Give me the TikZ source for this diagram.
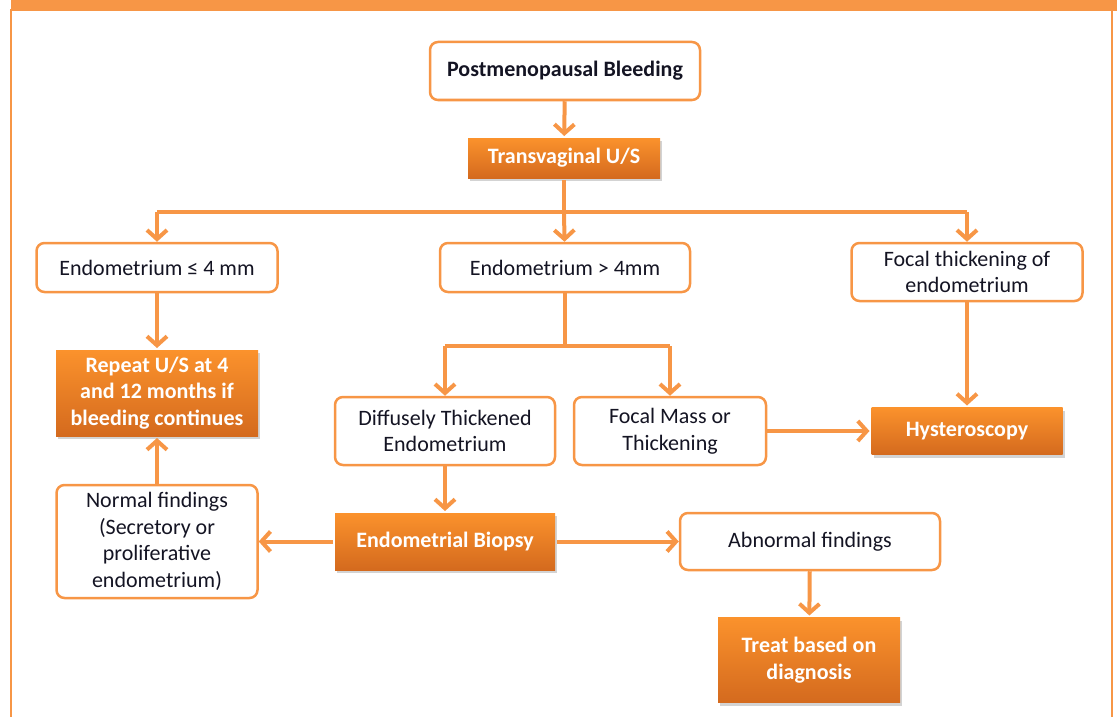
\documentclass[tikz,border=0pt]{standalone}
\usepackage{fontspec}
\setmainfont{Carlito}
\usepackage{tikz}
\usetikzlibrary{arrows.meta,positioning,calc,shadows}

\definecolor{linecol}{RGB}{247,150,70}
\definecolor{topcol}{RGB}{251,146,44}
\definecolor{botcol}{RGB}{212,106,30}
\definecolor{textcol}{RGB}{20,20,35}

\begin{document}
\begin{tikzpicture}[x=1pt,y=-1pt,
  line width=4pt,
  arr/.style={draw=linecol,-{Straight Barb[length=9pt,width=20pt,line width=4pt]}},
  plain node/.style={draw=linecol,line width=2.5pt,fill=white,rounded corners=8pt,
    align=center,inner sep=2pt,text=textcol,font=\fontsize{22}{26.5}\selectfont},
  fill node/.style={draw=none,top color=topcol,bottom color=botcol,align=center,
    inner sep=2pt,text=white,font=\fontsize{22}{26.5}\selectfont\bfseries,
    drop shadow={opacity=0.35,shadow xshift=2pt,shadow yshift=-3pt}}]

  \useasboundingbox (0,0) rectangle (1117,717);
  % frame
  \fill[linecol] (11,0) rectangle (1117,11);
  \draw[linecol,line width=2.5pt] (11,9) -- (11,717);
  \draw[linecol,line width=2.5pt] (1112,11) -- (1112,717);

  \node[plain node,minimum width=270pt,minimum height=58pt,font=\fontsize{22}{26.5}\selectfont\bfseries] (pmb) at (565,71) {Postmenopausal Bleeding};
  \node[fill node,minimum width=192pt,minimum height=40pt] (tvus) at (564,158) {Transvaginal U/S};
  \node[plain node,minimum width=241pt,minimum height=49pt] (le4) at (157,267.5) {Endometrium ≤ 4 mm};
  \node[plain node,minimum width=250pt,minimum height=49pt] (gt4) at (565,267.5) {Endometrium > 4mm};
  \node[plain node,minimum width=231pt,minimum height=58pt] (focal) at (967,272) {Focal thickening of\\endometrium};
  \node[fill node,minimum width=202pt,minimum height=86pt] (rep) at (157,393) {Repeat U/S at 4\\and 12 months if\\bleeding continues};
  \node[plain node,minimum width=220pt,minimum height=68pt] (diff) at (445,431) {Diffusely Thickened\\Endometrium};
  \node[plain node,minimum width=192pt,minimum height=68pt] (mass) at (670,431) {Focal Mass or\\Thickening};
  \node[fill node,minimum width=191pt,minimum height=47pt] (hyst) at (967,431) {Hysteroscopy};
  \node[fill node,minimum width=220pt,minimum height=57pt] (bio) at (445,541.5) {Endometrial Biopsy};
  \node[plain node,minimum width=201pt,minimum height=113pt] (norm) at (157,541.5) {Normal findings\\(Secretory or\\proliferative\\endometrium)};
  \node[plain node,minimum width=260pt,minimum height=57pt] (abn) at (810,541.5) {Abnormal findings};
  \node[fill node,minimum width=182pt,minimum height=85pt] (treat) at (809,660) {Treat based on\\diagnosis};

  \coordinate (split1) at ($(tvus.south)+(0,32)$);
  \coordinate (split2) at ($(gt4.south)+(0,53)$);

  \draw[linecol] (tvus) -- (split1);
  \draw[linecol] (le4.north |- split1) -- (focal.north |- split1);
  \draw[arr] (split1) -- (gt4);
  \draw[arr] (split1 -| le4) -- (le4);
  \draw[arr] (split1 -| focal) -- (focal);
  \draw[arr] (pmb) -- (tvus);
  \draw[arr] (le4) -- (rep);
  \draw[linecol] (gt4) -- (split2);
  \draw[linecol] (split2 -| diff) -- (split2 -| mass);
  \draw[arr] (split2 -| diff) -- (diff);
  \draw[arr] (split2 -| mass) -- (mass);
  \draw[arr] (mass) -- (hyst);
  \draw[arr] (focal) -- (hyst);
  \draw[arr] (diff) -- (bio);
  \draw[arr] (bio) -- (norm);
  \draw[arr] (bio) -- (abn);
  \draw[arr] (norm) -- (rep);
  \draw[arr] (abn) -- (treat);
\end{tikzpicture}
\end{document}
